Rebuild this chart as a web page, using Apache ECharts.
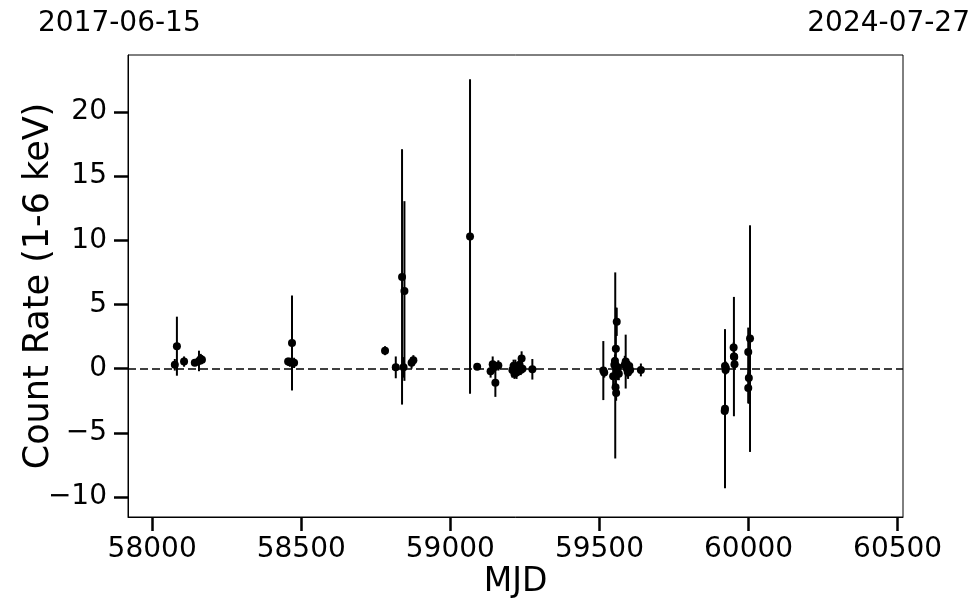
<!DOCTYPE html>
<html>
<head>
<meta charset="utf-8">
<script src="https://cdn.jsdelivr.net/npm/echarts@6/dist/echarts.min.js"></script>
<style>html,body{margin:0;padding:0;background:#fff;}#c{width:980px;height:613px;}</style>
</head>
<body>
<div id="c"></div>
<script>
const mjd = [
  58076, 58083, 58107, 58143, 58157, 58163, 58167,
  58456, 58462, 58469, 58476,
  58781, 58817, 58838, 58846, 58843, 58870, 58876,
  59066, 59090, 59135, 59142, 59147, 59151, 59161,
  59208, 59212, 59215, 59218, 59222, 59225, 59228, 59232, 59236, 59239, 59242, 59275,
  59513, 59516, 59546, 59550, 59553, 59555, 59558, 59554, 59556, 59552, 59560, 59562, 59565,
  59585, 59588, 59592, 59596, 59600, 59603, 59639,
  59921, 59920, 59921, 59923, 59924,
  59951, 59950, 59952, 59953,
  60005, 59999, 60001, 59999
];
const rate = [
  0.30, 1.75, 0.55, 0.45, 0.60, 0.75, 0.70,
  0.55, 0.50, 2.00, 0.45,
  1.40, 0.10, 7.15, 6.05, 0.10, 0.45, 0.65,
  10.30, 0.15, -0.20, 0.35, 0.10, -1.10, 0.25,
  -0.10, 0.20, -0.40, 0.00, -0.30, 0.10, -0.20, 0.30, -0.10, 0.80, 0.00, -0.05,
  -0.15, -0.30, -0.60, 0.30, 0.25, 1.55, 3.65, -1.45, -1.90, 0.60, -0.20, 0.10, -0.40,
  0.30, 0.55, 0.00, -0.30, 0.20, -0.10, -0.10,
  -3.12, -3.30, 0.20, -0.10, 0.05,
  0.94, 1.64, 0.91, 0.34,
  2.34, 1.30, -0.73, -1.50
];
const err = [
  0.45, 2.30, 0.40, 0.25, 0.80, 0.40, 0.35,
  0.30, 0.35, 3.70, 0.40,
  0.35, 0.85, 9.95, 7.00, 0.80, 0.45, 0.40,
  12.25, 0.15, 0.50, 0.60, 0.40, 1.10, 0.40,
  0.60, 0.50, 0.40, 0.70, 0.50, 0.40, 0.30, 0.50, 0.40, 0.55, 0.30, 0.80,
  2.30, 0.40, 0.80, 0.60, 7.25, 3.20, 1.10, 0.50, 0.60, 0.50, 0.70, 0.40, 0.50,
  0.70, 2.10, 0.60, 0.50, 0.40, 0.30, 0.50,
  6.20, 0.30, 0.40, 0.30, 0.50,
  4.65, 0.40, 0.40, 0.40,
  8.83, 1.90, 2.00, 1.20
];
const xTicks = [58000, 58500, 59000, 59500, 60000, 60500];
const yTicks = [-10, -5, 0, 5, 10, 15, 20];
const dateLeft = '2017-06-15';
const dateRight = '2024-07-27';

const FONT = 'DejaVu Sans';
const pts = mjd.map((m, i) => [m, rate[i]]);
const bars = mjd.map((m, i) => [m, rate[i], err[i]]);

const chart = echarts.init(document.getElementById('c'), null, {renderer: 'canvas'});
chart.setOption({
  animation: false,
  backgroundColor: '#fff',
  grid: {left: 128, right: 77, top: 55, bottom: 96, show: true, borderColor: '#000', borderWidth: 1,
    backgroundColor: 'transparent', containLabel: false, outerBoundsMode: 'none'},
  xAxis: {
    type: 'value', min: 57919, max: 60518,
    name: 'MJD', nameLocation: 'middle', nameGap: 49, nameMoveOverlap: false,
    nameTextStyle: {fontFamily: FONT, fontSize: 33, color: '#000'},
    axisLine: {show: true, onZero: false, lineStyle: {color: '#000', width: 1}},
    axisTick: {show: true, length: 14, customValues: xTicks, lineStyle: {color: '#000', width: 2.5}},
    axisLabel: {customValues: xTicks, fontFamily: FONT, fontSize: 28, color: '#000', margin: 19,
      formatter: v => String(v)},
    splitLine: {show: false}
  },
  yAxis: {
    type: 'value', min: -11.56, max: 24.44,
    name: 'Count Rate (1-6 keV)', nameLocation: 'middle', nameGap: 72, nameMoveOverlap: false,
    nameTextStyle: {fontFamily: FONT, fontSize: 35, color: '#000'},
    axisLine: {show: true, onZero: false, lineStyle: {color: '#000', width: 1}},
    axisTick: {show: true, length: 14, customValues: yTicks, lineStyle: {color: '#000', width: 2.5}},
    axisLabel: {customValues: yTicks, fontFamily: FONT, fontSize: 28, color: '#000', margin: 21,
      formatter: v => v < 0 ? '\u2212' + Math.abs(v) : String(v)},
    splitLine: {show: false}
  },
  graphic: [
    {type: 'text', left: 38, top: 10, style: {text: dateLeft, font: '28px "DejaVu Sans"', fill: '#000'}},
    {type: 'text', right: 10, top: 10, style: {text: dateRight, font: '28px "DejaVu Sans"', fill: '#000'}}
  ],
  series: [
    {
      type: 'custom', data: bars, z: 3,
      renderItem: (params, api) => {
        const x = api.value(0), y = api.value(1), e = api.value(2);
        const p1 = api.coord([x, y - e]);
        const p2 = api.coord([x, y + e]);
        return {type: 'line', shape: {x1: p1[0], y1: p1[1], x2: p2[0], y2: p2[1]},
          style: {stroke: '#000', lineWidth: 2}};
      },
      encode: {x: 0, y: 1}
    },
    {
      type: 'scatter', data: pts, symbol: 'circle', symbolSize: 8, z: 4,
      itemStyle: {color: '#000', opacity: 1},
      markLine: {
        silent: true, symbol: 'none', label: {show: false},
        lineStyle: {color: '#000', width: 1.5, type: [8, 4]},
        data: [{yAxis: 0}]
      }
    }
  ]
});
</script>
</body>
</html>
